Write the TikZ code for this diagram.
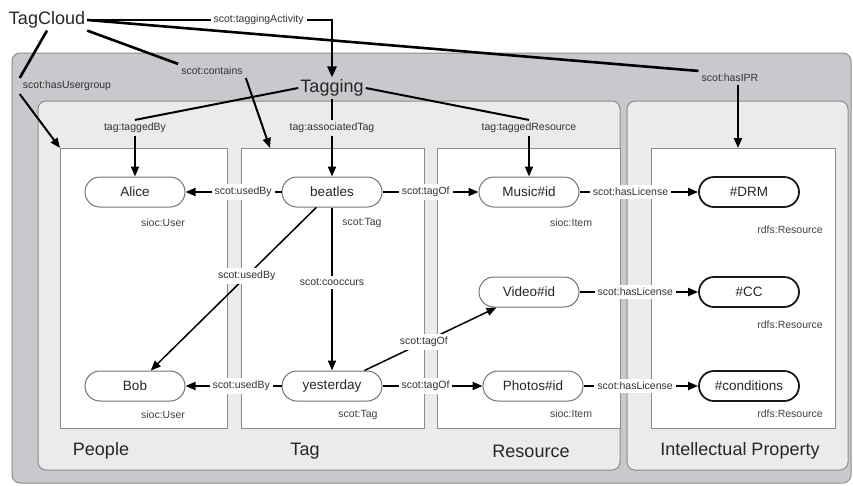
\documentclass[tikz,border=0pt]{standalone}
\usepackage{fontspec}
\setmainfont{Liberation Sans}
\usetikzlibrary{arrows.meta, positioning}
\definecolor{panelgray}{RGB}{200,201,204}
\definecolor{lightgray1}{RGB}{235,235,236}
\definecolor{bordergray}{RGB}{140,140,142}

\tikzset{
  panel/.style={draw=bordergray, line width=1pt, rounded corners=8pt},
  box/.style={draw=bordergray, fill=white, line width=0.8pt, inner sep=0pt, outer sep=0pt, minimum height=280pt},
  res/.style={draw=black!55, fill=white, line width=1pt, rounded corners=15pt, minimum width=100pt, minimum height=30pt, text=black!85, font=\fontsize{13.5}{15}\selectfont},
  lic/.style={res, draw=black!90, line width=1.8pt},
  typ/.style={text=black!75, font=\fontsize{10.5}{12}\selectfont},
  lbl/.style={fill=white, inner sep=3pt, text=black!80, font=\fontsize{10.5}{12}\selectfont},
  tlbl/.style={lbl, fill=none},
  big/.style={inner sep=2pt, text=black!85, font=\fontsize{18}{21}\selectfont},
  link/.style={line width=2pt},
  arr/.style={link, -{Triangle[length=10pt, width=8pt]}},
  cloud/.style={line width=2.6pt},
}

\begin{document}
\begin{tikzpicture}[x=1pt, y=-1pt]
\useasboundingbox (0,0) rectangle (853,485);

% panels
\draw[panel, fill=panelgray] (12,53) rectangle (851,483);
\draw[panel, fill=lightgray1] (38,101) rectangle (620,470);
\draw[panel, fill=lightgray1] (627,101) rectangle (848,470);

\node[box, minimum width=167pt] (peoplebox) at (143.5,288) {};
\node[box, minimum width=183pt] (tagbox) at (332.5,288) {};
\node[box, minimum width=183pt] (resbox) at (528.5,288) {};
\node[box, minimum width=184pt] (ipbox) at (743,288) {};

\node[big] (peoplettl) at (101,451) {People};
\node[big] (tagttl) at (305,451) {Tag};
\node[big] (resttl) at (531,451) {Resource};
\node[big] (ipttl) at (740,451) {Intellectual Property};

% top
\node[big] (tagcloud) at (47,20) {TagCloud};
\node[big] (tagging) at (332,88) {Tagging};

% resources
\node[res] (alice) at (135,192) {Alice};
\node[res] (bob) at (135,386) {Bob};
\node[res] (beatles) at (332,192) {beatles};
\node[res] (yesterday) at (332,386) {yesterday};
\node[res] (music) at (529,192) {Music\#id};
\node[res] (video) at (529,292) {Video\#id};
\node[res] (photos) at (533,386) {Photos\#id};
\node[lic] (drm) at (749,192) {\#DRM};
\node[lic] (cc) at (749,292) {\#CC};
\node[lic] (cond) at (749,386) {\#conditions};

% types
\node[typ] (alicetyp) at (163,223) {sioc:User};
\node[typ] (bobtyp) at (163,415) {sioc:User};
\node[typ] (beatlestyp) at (362,223) {scot:Tag};
\node[typ] (yesterdaytyp) at (358,415) {scot:Tag};
\node[typ] (musictyp) at (571,223) {sioc:Item};
\node[typ] (photostyp) at (571,414) {sioc:Item};
\node[typ] (drmtyp) at (790,230) {rdfs:Resource};
\node[typ] (cctyp) at (790,325) {rdfs:Resource};
\node[typ] (condtyp) at (790,414) {rdfs:Resource};

% property labels
\node[tlbl] (uglbl) at (67,86) {scot:hasUsergroup};
\node[tlbl] (ctlbl) at (212,71) {scot:contains};
\node[tlbl] (iprlbl) at (730,78) {scot:hasIPR};
\node[tlbl] (bylbl) at (135,128) {tag:taggedBy};
\node[tlbl] (atlbl) at (332,128) {tag:associatedTag};
\node[tlbl] (trlbl) at (529,128) {tag:taggedResource};

\coordinate (tagin) at (270,148);
\coordinate (iprin) at (738,148);

% TagCloud
\draw[cloud, -{Triangle[length=11pt, width=9pt]}] (tagcloud.east) -- node[lbl, pos=0.7] {scot:taggingActivity} (tagcloud.east -| tagging) -- (tagging.north);
\draw[cloud] (tagcloud.east) -- (iprlbl.north west);
\draw[arr] (iprlbl.south -| iprin) -- (iprin);
\draw[cloud] (tagcloud.south east) -- (ctlbl.north west);
\draw[arr] (ctlbl.south east) -- (tagin);
\draw[cloud] (tagcloud.south) -- (uglbl.north west);
\draw[arr] (uglbl.south west) -- (peoplebox.north west);

% Tagging
\draw[link] (tagging.west) -- (bylbl.north);
\draw[arr] (bylbl.south) -- (alice.north);
\draw[link] (tagging.south) -- (atlbl.north);
\draw[arr] (atlbl.south) -- (beatles.north);
\draw[link] (tagging.east) -- (trlbl.north);
\draw[arr] (trlbl.south) -- (music.north);

% tags
\draw[arr] (beatles) -- node[lbl, pos=0.4] {scot:usedBy} (alice);
\draw[arr] (beatles) -- node[lbl, pos=0.45] {scot:tagOf} (music);
\draw[arr, line width=1.5pt] (beatles) -- node[lbl, pos=0.42] {scot:usedBy} (bob);
\draw[arr] (beatles) -- node[lbl, pos=0.46] {scot:cooccurs} (yesterday);
\draw[arr, line width=1.5pt] (yesterday) -- node[lbl, pos=0.45] {scot:tagOf} (video);
\draw[arr] (yesterday) -- node[lbl, pos=0.42] {scot:usedBy} (bob);
\draw[arr] (yesterday) -- node[lbl, pos=0.43] {scot:tagOf} (photos);

% licenses
\draw[arr] (music) -- node[lbl, pos=0.43] {scot:hasLicense} (drm);
\draw[arr] (video) -- node[lbl, pos=0.47] {scot:hasLicense} (cc);
\draw[arr] (photos) -- node[lbl, pos=0.45] {scot:hasLicense} (cond);
\end{tikzpicture}
\end{document}
